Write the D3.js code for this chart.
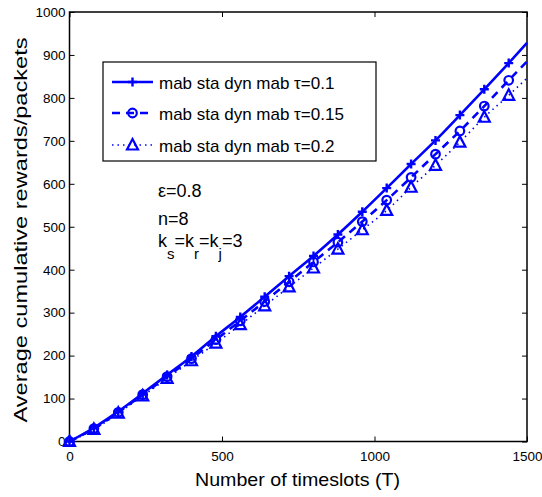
<!DOCTYPE html>
<html><head><meta charset="utf-8">
<script src="https://cdn.jsdelivr.net/npm/d3@7"></script>
<style>body{margin:0;background:#fff}svg{display:block;font-family:"Liberation Sans",Arial,sans-serif}</style>
</head><body><svg id="c" width="542" height="497"></svg>
<script>
const xVals = [0,80,160,240,320,400,480,560,640,720,800,880,960,1040,1120,1200,1280,1360,1440,1500];
const tau01 = [0,32,70,112,155,198,245,290,337,385,432,482,535,590,646,701,760,820,881,928];
const tau015 = [0,30,68,109,151,193,237,281,326,372,418,464,512,562,615,669,723,781,841,885];
const tau02 = [0,28,66,106,147,188,229,272,316,360,404,448,493,538,592,643,697,755,806,846];
const seriesNames = ["mab sta dyn mab \u03c4=0.1","mab sta dyn mab \u03c4=0.15","mab sta dyn mab \u03c4=0.2"];
const xTicks = [0,500,1000,1500];
const yTicks = [0,100,200,300,400,500,600,700,800,900,1000];

const svg = d3.select("#c");
const m = {l:69.5,r:527,t:12,b:441.5};
const x = d3.scaleLinear().domain([0,1500]).range([m.l,m.r]);
const y = d3.scaleLinear().domain([0,1000]).range([m.b,m.t]);
const blue = "#0000ff";

// axes
svg.append("g").attr("transform",`translate(0,${m.b})`)
  .call(d3.axisBottom(x).tickValues(xTicks).tickSize(-5).tickPadding(10).tickFormat(d3.format("d")));
svg.append("g").attr("transform",`translate(${m.l},0)`)
  .call(d3.axisLeft(y).tickValues(yTicks).tickSize(-5).tickPadding(4).tickFormat(d3.format("d")));
svg.append("g").attr("transform",`translate(0,${m.t})`)
  .call(d3.axisTop(x).tickValues(xTicks).tickSize(-5).tickFormat(""));
svg.append("g").attr("transform",`translate(${m.r},0)`)
  .call(d3.axisRight(y).tickValues(yTicks).tickSize(-5).tickFormat(""));
svg.selectAll(".domain").remove();
svg.selectAll(".tick line").attr("stroke","#000").attr("stroke-width",1);
svg.selectAll(".tick text").attr("font-size",13.5).attr("fill","#000").attr("font-family","Liberation Sans, Arial, sans-serif");
svg.append("rect").attr("x",m.l).attr("y",m.t).attr("width",m.r-m.l).attr("height",m.b-m.t)
  .attr("fill","none").attr("stroke","#000").attr("stroke-width",1.5);

// labels
svg.append("text").attr("x",297.5).attr("y",486).attr("text-anchor","middle")
  .attr("font-size",19).attr("textLength",205).attr("lengthAdjust","spacingAndGlyphs").text("Number of timeslots (T)");
svg.append("text").attr("transform",`translate(27,230) rotate(-90)`).attr("text-anchor","middle")
  .attr("font-size",19).attr("textLength",385).attr("lengthAdjust","spacingAndGlyphs").text("Average cumulative rewards/packets");

const plot = svg.append("g");
const line = d3.line().x((d,i)=>x(xVals[i])).y(d=>y(d)).curve(d3.curveMonotoneX);
const styles = [
  {data:tau01, dash:null, w:2.6, marker:"plus"},
  {data:tau015, dash:"8,6", w:2.6, marker:"circle"},
  {data:tau02, dash:"1.5,4", w:1.6, marker:"tri"}
];
function drawMarker(g,type,cx,cy){
  if(type==="plus"){
    g.append("path").attr("d",`M${cx-4.5},${cy}H${cx+4.5}M${cx},${cy-4.5}V${cy+4.5}`)
      .attr("stroke",blue).attr("stroke-width",2.4).attr("fill","none");
  } else if(type==="circle"){
    g.append("circle").attr("cx",cx).attr("cy",cy).attr("r",4.3)
      .attr("stroke",blue).attr("stroke-width",2.2).attr("fill","none");
  } else {
    g.append("path").attr("d",`M${cx},${cy-6}L${cx+5.5},${cy+4.5}L${cx-5.5},${cy+4.5}Z`)
      .attr("stroke",blue).attr("stroke-width",2.2).attr("fill","none");
  }
}
styles.slice().reverse().forEach(s=>{
  plot.append("path").datum(s.data).attr("d",line).attr("fill","none")
    .attr("stroke",blue).attr("stroke-width",s.w).attr("stroke-dasharray",s.dash);
});
styles.slice().reverse().forEach(s=>{
  s.data.forEach((v,i)=>{ if(xVals[i]%80===0) drawMarker(plot,s.marker,x(xVals[i]),y(v)); });
});

// legend
const lg = svg.append("g");
lg.append("rect").attr("x",103).attr("y",62).attr("width",273).attr("height",99)
  .attr("fill","#fff").attr("stroke","#000").attr("stroke-width",1.2);
const ly = [82,113,145];
styles.forEach((s,i)=>{
  lg.append("line").attr("x1",112).attr("x2",153).attr("y1",ly[i]).attr("y2",ly[i])
    .attr("stroke",blue).attr("stroke-width",s.w).attr("stroke-dasharray",s.dash);
  drawMarker(lg,s.marker,132.5,ly[i]);
  lg.append("text").attr("x",159).attr("y",ly[i]+6.5).attr("font-size",17).text(seriesNames[i]);
});

// annotations
svg.append("text").attr("x",158).attr("y",197).attr("font-size",18).text("\u03b5=0.8");
svg.append("text").attr("x",158).attr("y",225).attr("font-size",18).text("n=8");
const k = svg.append("text").attr("x",158).attr("y",247).attr("font-size",18);
k.append("tspan").text("k");
k.append("tspan").attr("dy",12).attr("font-size",15).text("s");
k.append("tspan").attr("dy",-12).text("=k");
k.append("tspan").attr("dy",12).attr("font-size",15).text("r");
k.append("tspan").attr("dy",-12).text("=k");
k.append("tspan").attr("dy",12).attr("font-size",15).text("j");
k.append("tspan").attr("dy",-12).text("=3");
</script></body></html>
